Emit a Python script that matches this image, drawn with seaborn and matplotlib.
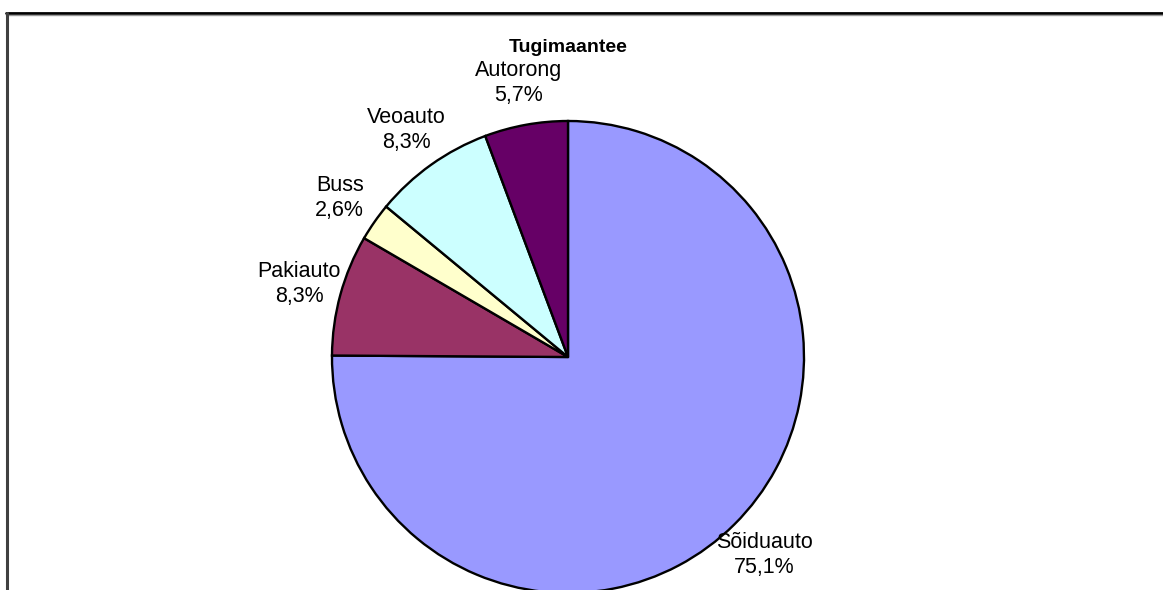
import matplotlib
matplotlib.use("Agg")
import matplotlib.pyplot as plt
import seaborn as sns

# vehicle shares on the road type
categories = ["Sõiduauto", "Pakiauto", "Buss", "Veoauto", "Autorong"]
shares = [75.1, 8.3, 2.6, 8.3, 5.7]
colors = ["#9999FF", "#993366", "#FFFFCC", "#CCFFFF", "#660066"]
title = "Tugimaantee"

sns.set_theme(style="white")
plt.rcParams["font.family"] = ["Liberation Sans", "DejaVu Sans"]

W, H = 1163, 590
fig = plt.figure(figsize=(W / 100, H / 100), dpi=100)
fig.patch.set_facecolor("white")
ax = fig.add_axes([0, 0, 1, 1])

labels = [f"{c}\n{str(v).replace('.', ',')}%" for c, v in zip(categories, shares)]

cx, cy, r = 568, H - 357, 236
wedges, texts = ax.pie(
    shares,
    labels=labels,
    colors=colors,
    startangle=90,
    counterclock=False,
    center=(cx, cy),
    radius=r,
    labeldistance=1.18,
    wedgeprops=dict(edgecolor="black", linewidth=1.7),
    textprops=dict(fontsize=15.5, ha="center", va="center", color="black",
                   linespacing=1.25),
)
ax.set_xlim(0, W)
ax.set_ylim(0, H)
ax.set_aspect("equal")
ax.axis("off")

ax.text(cx, H - 47, title, ha="center", va="center", fontsize=14,
        fontweight="bold", color="black")

# chart frame (top and left edges only visible)
ax.plot([6, W], [H - 13, H - 13], color="black", lw=2, clip_on=False)
ax.plot([6, W], [H - 15, H - 15], color="#999999", lw=1, clip_on=False)
ax.plot([7, 7], [0, H - 13], color="#404040", lw=2.2, clip_on=False)

fig.savefig("out.png", dpi=100, facecolor="white")
